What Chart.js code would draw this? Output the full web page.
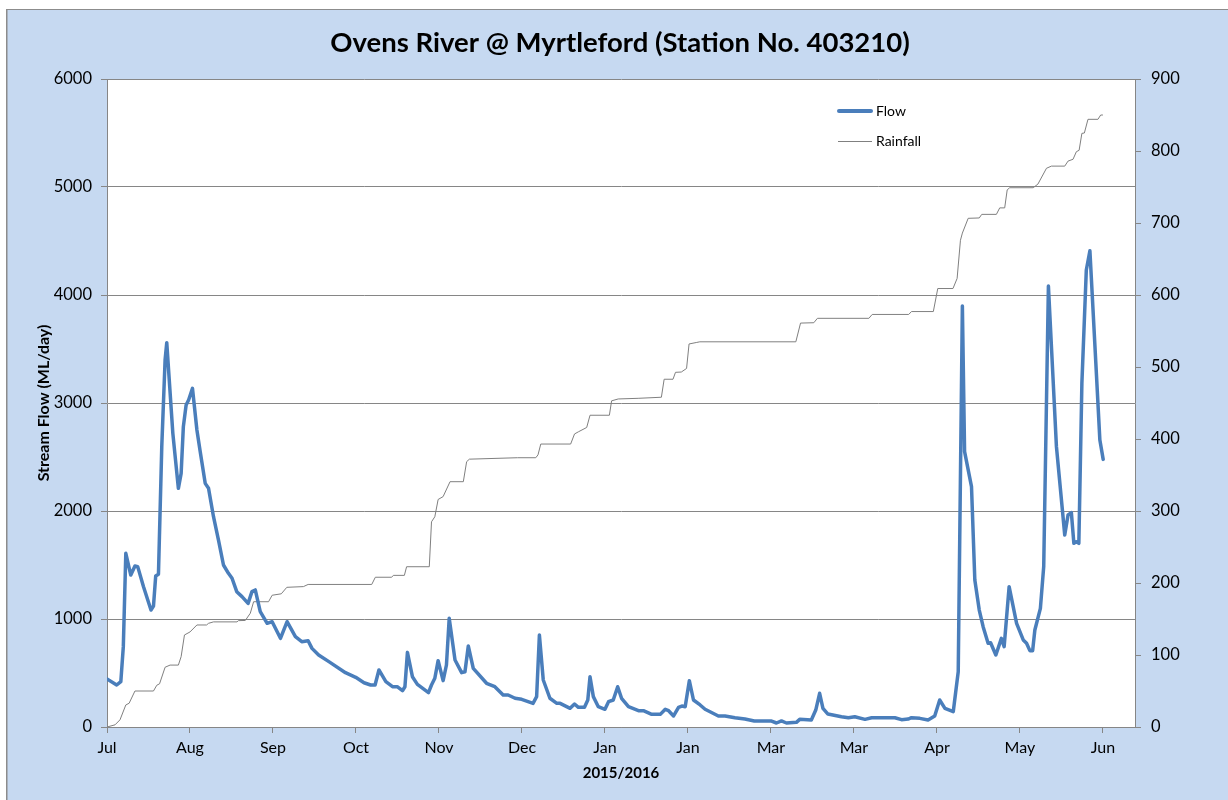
<!DOCTYPE html>
<html>
<head>
<meta charset="utf-8">
<script src="https://cdn.jsdelivr.net/npm/chart.js@4/dist/chart.umd.min.js"></script>
<style>
  html, body { margin: 0; padding: 0; background: #ffffff; }
  #wrap { position: relative; width: 1228px; height: 800px; }
  canvas { display: block; }
</style>
</head>
<body>
<div id="wrap"><canvas id="c" width="1228" height="800"></canvas></div>
<script>
// ---- Data ----
const chartTitle = 'Ovens River @ Myrtleford (Station No. 403210)';
const xAxisTitle = '2015/2016';
const yAxisTitle = 'Stream Flow (ML/day)';
const tickLabels = ['Jul','Aug','Sep','Oct','Nov','Dec','Jan','Jan','Mar','Mar','Apr','May','Jun'];
const seriesNames = ['Flow', 'Rainfall'];

// Flow: day index since start of record, flow in ML/day
const flowDays = [0,3.5,5,5.9,6.8,8.6,10.1,11.1,13.2,15.9,16.8,17.6,18.6,19.8,21,21.6,23.8,25.8,26.8,27.6,28.6,29.5,30.9,32.5,33.7,35.5,36.7,38.5,40.3,42.1,43.9,45.2,46.9,48.8,51,52.4,53.6,55.4,57.9,59.7,62.7,65.1,68.1,70.4,72.7,74.1,76.5,80.2,86.2,89.9,92.9,95.3,96.9,98.3,100.8,103.2,104.9,106.8,107.7,108.6,110.4,112.2,116.2,117.3,118.5,119.7,121.5,122.7,123.7,125.8,128.2,129.4,130.6,132.4,137.2,140.2,143.2,145,147.5,149.9,154,155.3,156.3,157.7,160.1,162.6,163.8,167.4,169,170.4,172.6,173.8,174.6,175.8,177.6,180,181.3,183,184.6,186,188.5,192.1,193.9,196.9,200,201.8,203,204.8,206.6,207.8,209,210.5,212,214.4,216.2,221,223.4,227,230.6,234,240,242,243.8,245.6,249.2,250.4,254.6,256.2,257.6,258.8,260.6,265.5,268,270.3,274,276.4,284.8,287.2,289.6,290.8,293.8,296.8,299.2,301,302.9,305.9,307.7,309.2,310,312.5,313.7,315.3,316.7,318.5,319.4,321.3,323.3,324.3,326.1,328.8,331.2,332.4,333.6,334.6,335.4,337.4,338.6,340.3,342,343.2,346.2,347.4,348.6,349.5,350.4,351.3,352.4,354,355.3,357.7,358.9,360.1];
const flowValues = [444,389,420,744,1608,1407,1491,1485,1299,1083,1120,1398,1414,2596,3398,3558,2719,2210,2349,2781,2981,3028,3136,2750,2549,2256,2210,1947,1731,1500,1423,1377,1253,1207,1145,1253,1269,1068,960,975,821,975,836,790,799,728,667,605,503,460,410,389,389,528,420,373,373,336,373,691,466,395,318,389,451,614,429,574,1006,620,503,512,750,543,405,373,296,296,266,256,219,281,852,435,266,219,219,173,213,182,182,250,466,281,188,164,234,250,373,266,188,151,151,117,117,164,151,102,182,194,188,429,250,204,164,102,102,86,74,56,56,37,56,37,43,71,65,157,312,173,120,95,86,95,71,86,86,68,74,86,80,65,102,250,173,142,512,3898,2549,2225,1361,1083,929,775,780,667,821,744,1299,960,806,775,707,707,898,1099,1484,4083,3213,2596,1778,1963,1985,1701,1716,1701,3182,4231,4410,3244,2657,2478];

// Rainfall (cumulative, mm): day index, value
const rainDays = [0,2.9,4.7,6.8,8,10.1,16.8,18,19,21,22.8,25.8,26.8,28,30,32.5,36,36.7,38.5,47,47.5,50,51.8,53,58.4,59.7,63,65,71,72.7,95.7,97,102.9,103.5,107.5,108.3,116.5,117.3,118.5,119.7,121.5,124,128.8,130,131,148.4,155,155.8,156.8,167.6,169,170.4,173.4,174.6,181.6,182.4,184.8,192,200.4,201.4,204.6,205.5,207.6,209.5,210.4,213,214.3,249,250.7,255.5,256.8,275.4,276.6,289.8,290.8,298.7,300.3,305.8,307.3,308.5,309.2,311.3,315.3,316.2,321.5,322.7,324.5,325.4,326.3,334.8,336.5,339.6,341.4,346.2,347.4,349.2,350.4,351.4,352.4,353.3,354.6,358.2,359.2,360];
const rainValues = [0,3,10,30.6,33,50,50,58,60,83,86,86,97.7,127.8,132,141.7,141.7,144,146,146,147.7,148,158,174,174,183,185,194,195,198,198,208,208,210.6,210.6,222.6,222.6,285,292,316,320,340.7,340.7,368.5,372,374,374,378,393,393,407,410,416,433,433,453,455.6,456.5,458,483,483,492.6,493,498,532,534,535,535,561,561.5,567.6,567.6,573,573,577,577,609,609,623,676,686,706.5,707,712,712,721,721,746,749,749,754,776,779,779,786,788.5,799,801,824.5,825,844,844,850,850];

// Build point objects for the library
const flowData = flowDays.map((d, i) => ({ x: d, y: flowValues[i] }));
const rainData = rainDays.map((d, i) => ({ x: d, y: rainValues[i] }));

const BLUE = '#4a7ebb';
const GREY = '#808080';
const AXIS = '#868686';
const BG = '#c6d9f1';
const FONT = 'Lato, "Open Sans", "Liberation Sans", sans-serif';

const decorPlugin = {
  id: 'decor',
  beforeDraw(chart) {
    const ctx = chart.ctx;
    const a = chart.chartArea;
    ctx.save();
    ctx.fillStyle = '#ffffff';
    ctx.fillRect(0, 0, chart.width, chart.height);
    ctx.fillStyle = BG;
    ctx.fillRect(7, 10, chart.width - 7, chart.height - 10);
    ctx.fillStyle = '#8c8c8c';
    ctx.fillRect(6, 9, chart.width - 6, 1);
    ctx.fillRect(6, 9, 1.5, chart.height - 9);
    ctx.fillStyle = '#ffffff';
    ctx.fillRect(a.left, a.top, a.right - a.left, a.bottom - a.top);
    ctx.restore();
  },
  afterDraw(chart) {
    const ctx = chart.ctx;
    ctx.save();
    // Title
    ctx.fillStyle = '#000000';
    ctx.font = 'bold 27.5px ' + FONT;
    ctx.textAlign = 'center';
    ctx.textBaseline = 'middle';
    ctx.fillText(chartTitle, 620, 43);
    // Legend
    ctx.font = '14px ' + FONT;
    ctx.textAlign = 'left';
    ctx.lineCap = 'round';
    ctx.strokeStyle = BLUE;
    ctx.lineWidth = 4;
    ctx.beginPath(); ctx.moveTo(839, 111); ctx.lineTo(871, 111); ctx.stroke();
    ctx.fillText(seriesNames[0], 876, 111);
    ctx.strokeStyle = GREY;
    ctx.lineWidth = 1;
    ctx.lineCap = 'butt';
    ctx.beginPath(); ctx.moveTo(838, 141.5); ctx.lineTo(872, 141.5); ctx.stroke();
    ctx.fillText(seriesNames[1], 876, 141);
    ctx.restore();
  }
};

new Chart(document.getElementById('c'), {
  type: 'line',
  data: {
    datasets: [
      { label: seriesNames[0], data: flowData, yAxisID: 'y', borderColor: BLUE, backgroundColor: BLUE,
        borderWidth: 3.5, pointRadius: 0, tension: 0, borderJoinStyle: 'round', borderCapStyle: 'round' },
      { label: seriesNames[1], data: rainData, yAxisID: 'y1', borderColor: GREY, backgroundColor: GREY,
        borderWidth: 1, pointRadius: 0, tension: 0 }
    ]
  },
  options: {
    responsive: false,
    animation: false,
    devicePixelRatio: 1,
    layout: { padding: { top: 79, left: 0, right: 0, bottom: 0 } },
    plugins: { legend: { display: false }, title: { display: false }, tooltip: { enabled: false } },
    scales: {
      x: {
        type: 'linear', min: 0, max: 371.6,
        afterFit(s) { s.height = 73; },
        grid: { drawOnChartArea: false, drawTicks: true, tickLength: 6, color: AXIS },
        border: { color: AXIS, width: 1 },
        ticks: {
          stepSize: 30, includeBounds: false, autoSkip: false, maxRotation: 0, padding: 5,
          color: '#000', font: { family: FONT, size: 16 },
          callback: (v) => (v % 30 === 0 && tickLabels[v / 30] !== undefined) ? tickLabels[v / 30] : ''
        },
        title: { display: true, text: xAxisTitle, color: '#000', font: { family: FONT, size: 15, weight: 'bold' },
          padding: { top: 0, bottom: 18 } }
      },
      y: {
        position: 'left', min: 0, max: 6000,
        afterFit(s) { s.width = 107; },
        grid: { color: AXIS, lineWidth: 1, drawTicks: true, tickLength: 6 },
        border: { color: AXIS, width: 1 },
        ticks: { stepSize: 1000, padding: 9, color: '#000', font: { family: FONT, size: 16.5 },
          callback: (v) => String(v) },
        title: { display: true, text: yAxisTitle, color: '#000', font: { family: FONT, size: 16, weight: 'bold' },
          padding: { top: 34.4, bottom: 0 } }
      },
      y1: {
        position: 'right', min: 0, max: 900,
        afterFit(s) { s.width = 93; },
        grid: { drawOnChartArea: false, drawTicks: true, tickLength: 6, color: AXIS },
        border: { color: AXIS, width: 1 },
        ticks: { stepSize: 100, padding: 10, color: '#000', font: { family: FONT, size: 16.5 },
          callback: (v) => String(v) }
      }
    }
  },
  plugins: [decorPlugin]
});
</script>
</body>
</html>
